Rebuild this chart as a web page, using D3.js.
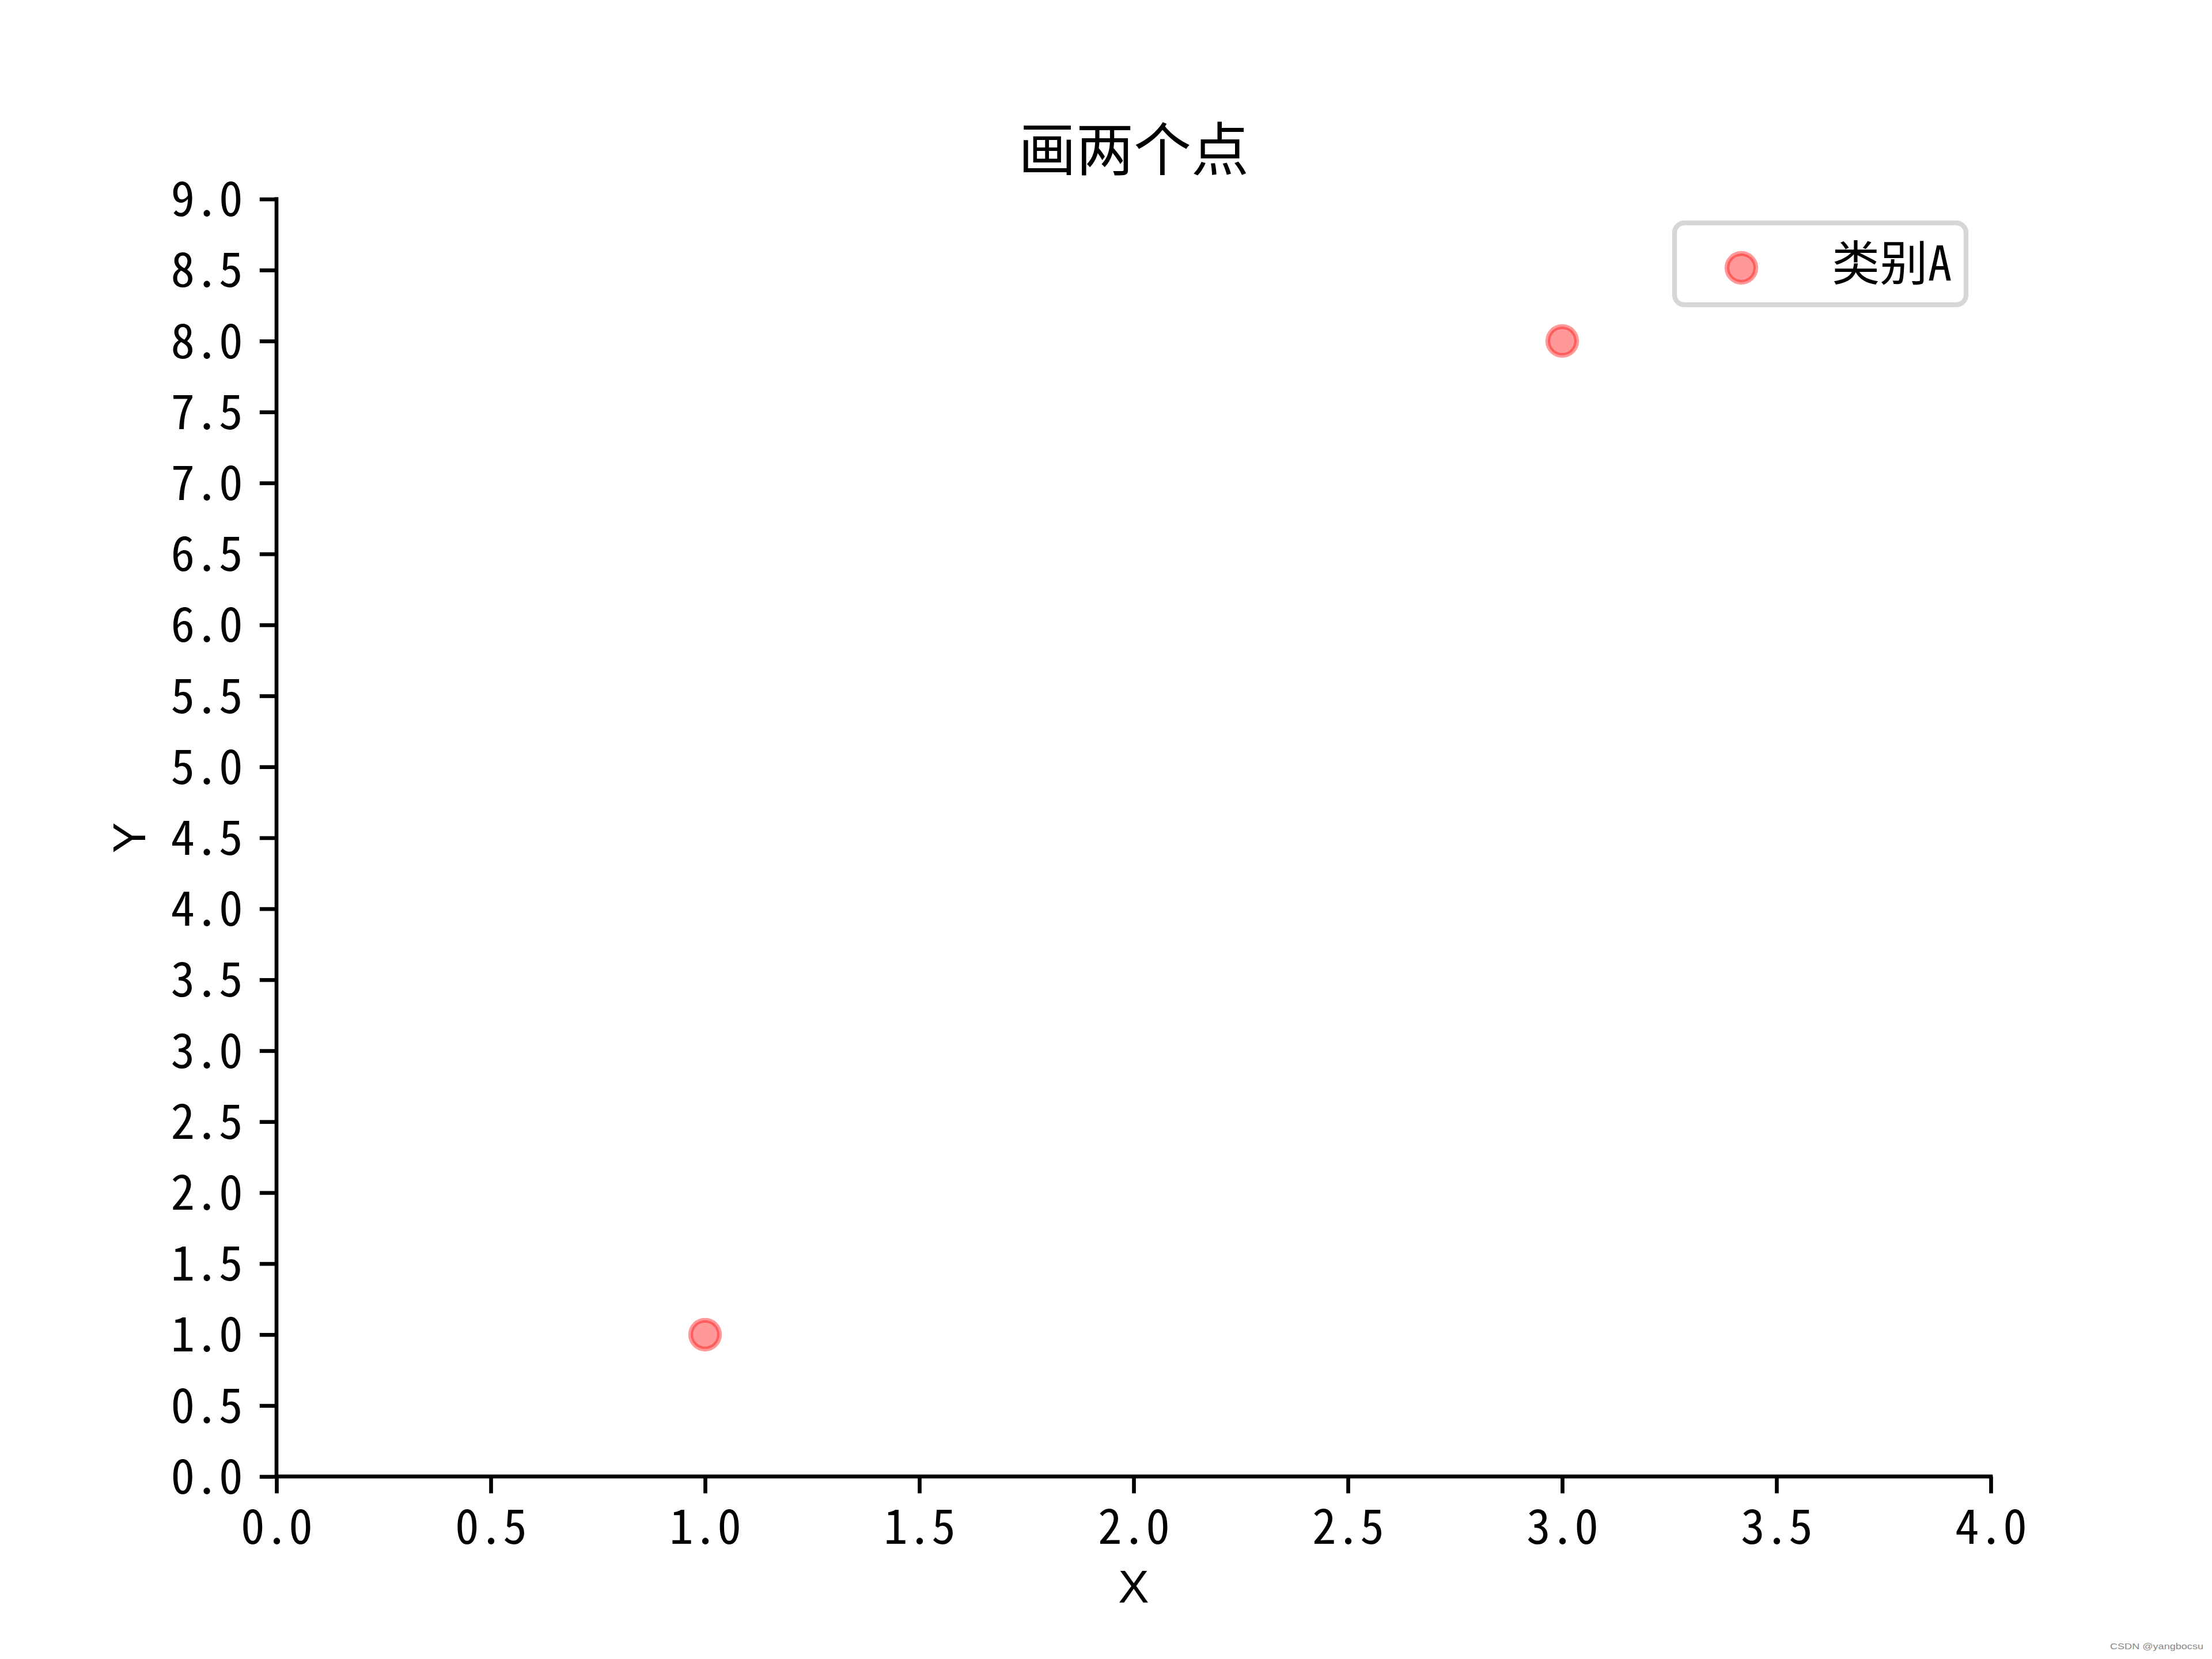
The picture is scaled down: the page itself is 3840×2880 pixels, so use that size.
<!DOCTYPE html>
<html>
<head>
<meta charset="utf-8">
<script src="https://cdn.jsdelivr.net/npm/d3@7"></script>
<style>
  html, body { margin: 0; padding: 0; background: #fff; }
  svg { display: block; }
</style>
</head>
<body>
<script>
// ---- data ----
const xValues = [1, 3];
const yValues = [1, 8];
const seriesName = "类别A";
const xTicks = [0, 0.5, 1, 1.5, 2, 2.5, 3, 3.5, 4];
const yTicks = [0, 0.5, 1, 1.5, 2, 2.5, 3, 3.5, 4, 4.5, 5, 5.5, 6, 6.5, 7, 7.5, 8, 8.5, 9];
const titleText = "画两个点";
const xLabel = "X";
const yLabel = "Y";
const watermark = "CSDN @yangbocsu";

// ---- layout ----
const W = 3840, H = 2880;
const mLeft = 480, mRight = 3456, mTop = 345.6, mBottom = 2563.2;
const tickFont = '"Noto Sans Mono CJK SC", "Noto Sans Mono CJK JP", "DejaVu Sans Mono", monospace';
const labelFont = '"Liberation Sans Narrow", "Liberation Sans", sans-serif';
const cjkFont = '"Noto Sans CJK SC", "Noto Sans", sans-serif';
const fs = 83.33;
const tickLen = 29.2;
const lw = 6.67;

const svg = d3.select("body").append("svg")
  .attr("width", W).attr("height", H)
  .attr("viewBox", `0 0 ${W} ${H}`);
svg.append("rect").attr("width", W).attr("height", H).attr("fill", "#fff");

const x = d3.scaleLinear().domain([0, 4]).range([mLeft, mRight]);
const y = d3.scaleLinear().domain([0, 9]).range([mBottom, mTop]);

const fmt = d3.format(".1f");

const xAxis = svg.append("g")
  .attr("transform", `translate(0,${mBottom})`)
  .call(d3.axisBottom(x).tickValues(xTicks).tickFormat(fmt).tickSize(tickLen).tickPadding(29.2));
const yAxis = svg.append("g")
  .attr("transform", `translate(${mLeft},0)`)
  .call(d3.axisLeft(y).tickValues(yTicks).tickFormat(fmt).tickSize(tickLen).tickPadding(29.2));

[xAxis, yAxis].forEach(g => {
  g.select(".domain").attr("stroke", "#000").attr("stroke-width", lw)
    .attr("stroke-linecap", "square");
  g.selectAll(".tick line").attr("stroke", "#000").attr("stroke-width", lw);
  g.selectAll(".tick text")
    .attr("fill", "#000")
    .style("font-family", tickFont)
    .style("font-size", fs + "px");
});
xAxis.select(".domain").attr("d", `M${mLeft},0H${mRight}`);
yAxis.select(".domain").attr("d", `M0,${mBottom}V${mTop}`);

xAxis.selectAll(".tick text").attr("dy", null).attr("y", 117);
yAxis.selectAll(".tick text").attr("dy", "0.35em");

// title
svg.append("text")
  .attr("x", (mLeft + mRight) / 2).attr("y", 296)
  .attr("text-anchor", "middle")
  .style("font-family", cjkFont)
  .style("font-size", "100px")
  .attr("fill", "#000")
  .text(titleText);

// axis labels
svg.append("text")
  .attr("x", (mLeft + mRight) / 2).attr("y", 2782)
  .attr("text-anchor", "middle")
  .style("font-family", labelFont)
  .style("font-size", "80px")
  .text(xLabel);
svg.append("text")
  .attr("transform", `translate(252,${(mTop + mBottom) / 2}) rotate(-90)`)
  .attr("text-anchor", "middle")
  .style("font-family", labelFont)
  .style("font-size", "80px")
  .text(yLabel);

// points
svg.append("g").selectAll("circle")
  .data(xValues.map((d, i) => ({ x: d, y: yValues[i] })))
  .join("circle")
  .attr("cx", d => x(d.x)).attr("cy", d => y(d.y))
  .attr("r", 25)
  .attr("fill", "red").attr("fill-opacity", 0.4)
  .attr("stroke", "red").attr("stroke-opacity", 0.4)
  .attr("stroke-width", 8.33);

// legend
const lg = svg.append("g");
lg.append("rect")
  .attr("x", 2907).attr("y", 387).attr("width", 3413 - 2907).attr("height", 529 - 387)
  .attr("rx", 17).attr("ry", 17)
  .attr("fill", "#fff").attr("fill-opacity", 0.8)
  .attr("stroke", "#cccccc").attr("stroke-opacity", 0.8)
  .attr("stroke-width", 8.33);
lg.append("circle")
  .attr("cx", 3023).attr("cy", 465).attr("r", 25)
  .attr("fill", "red").attr("fill-opacity", 0.4)
  .attr("stroke", "red").attr("stroke-opacity", 0.4)
  .attr("stroke-width", 8.33);
lg.append("text")
  .attr("x", 3180).attr("y", 487)
  .style("font-family", tickFont)
  .style("font-size", fs + "px")
  .attr("fill", "#000")
  .text(seriesName);

// watermark
svg.append("text")
  .attr("x", 3663).attr("y", 2863)
  .attr("textLength", 162).attr("lengthAdjust", "spacingAndGlyphs")
  .style("font-family", '"Liberation Sans", Arial, sans-serif')
  .style("font-size", "15px")
  .attr("fill", "#888")
  .text(watermark);
</script>
</body>
</html>
